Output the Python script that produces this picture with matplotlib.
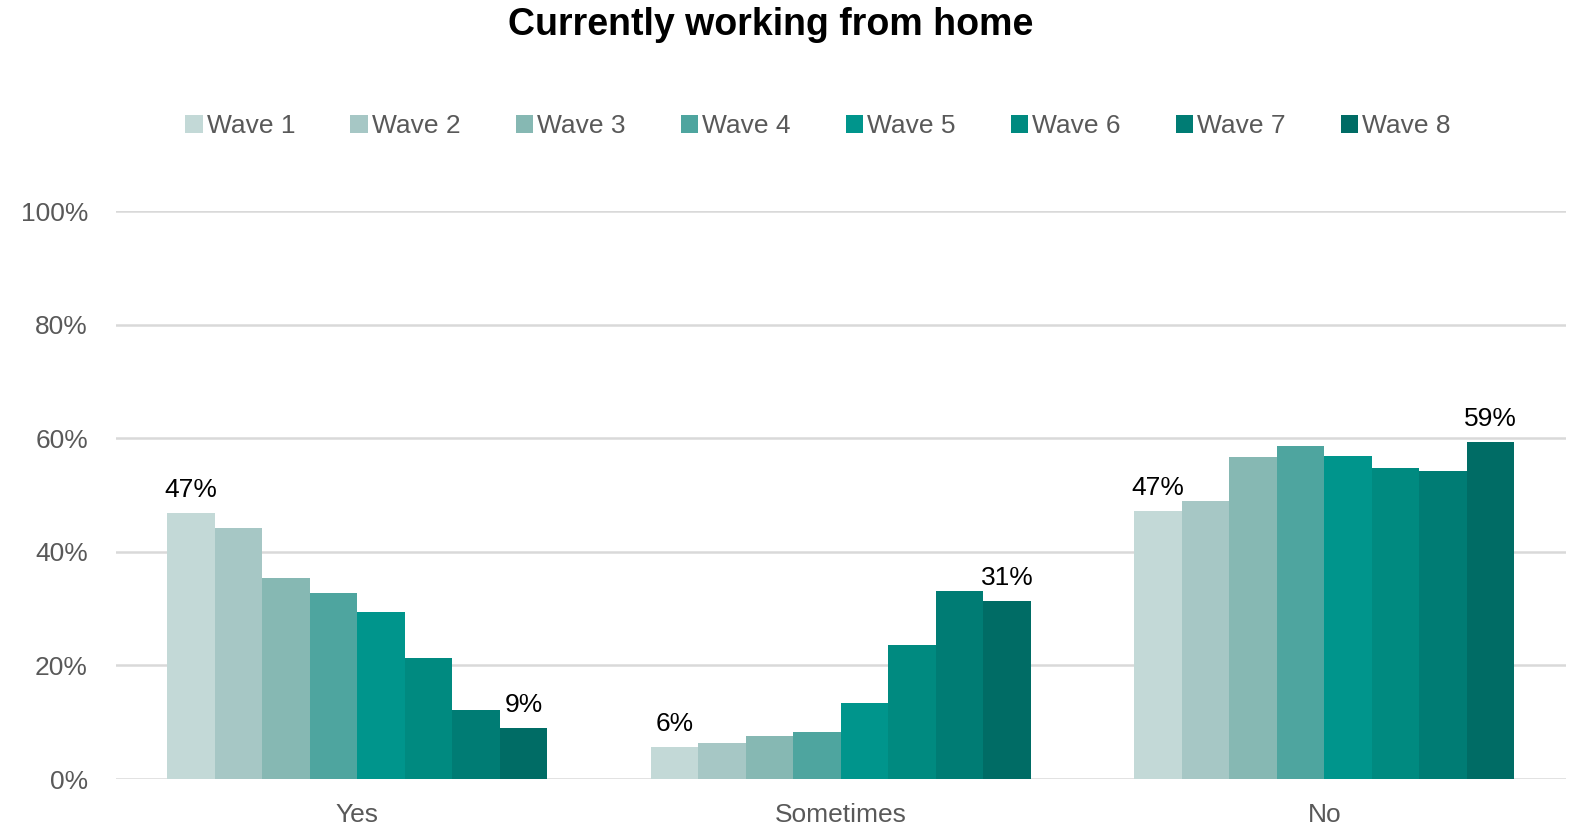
import numpy as np
import matplotlib
matplotlib.use('Agg')
import matplotlib.pyplot as plt

plt.rcParams['font.family'] = ['Liberation Sans', 'DejaVu Sans']

# data
categories = ['Yes', 'Sometimes', 'No']
waves = ['Wave 1', 'Wave 2', 'Wave 3', 'Wave 4', 'Wave 5', 'Wave 6', 'Wave 7', 'Wave 8']
yes_vals = [46.9, 44.3, 35.4, 32.8, 29.4, 21.3, 12.2, 9.0]
sometimes_vals = [5.6, 6.3, 7.5, 8.3, 13.4, 23.6, 33.2, 31.4]
no_vals = [47.2, 49.0, 56.8, 58.6, 56.9, 54.7, 54.2, 59.3]
colors = ['#C3D9D7', '#A6C7C5', '#86B8B3', '#4EA59F', '#00958C', '#008A80', '#007C74', '#006C65']

vals = np.array([yes_vals, sometimes_vals, no_vals])  # rows = categories

fig = plt.figure(figsize=(15.76, 8.24), dpi=100)
ax = fig.add_axes([0.0734, 0.0546, 0.9202, 0.689])

group_w = 0.786
bw = group_w / len(waves)
x = np.arange(len(categories))
for i, w in enumerate(waves):
    pos = x - group_w / 2 + bw * (i + 0.5)
    ax.bar(pos, vals[:, i], width=bw, color=colors[i], label=w,
           edgecolor='none', zorder=3)
    # labels on first and last wave only
    if i in (0, len(waves) - 1):
        for xp, v in zip(pos, vals[:, i]):
            ax.annotate('%d%%' % round(v), (xp, v), xytext=(0, 8),
                        textcoords='offset points', ha='center', va='bottom',
                        fontsize=19, color='black')

ax.set_xlim(-0.5, 2.5)
ax.set_ylim(0, 100)
ax.set_yticks(np.arange(0, 101, 20))
ax.set_yticklabels(['%d%%' % t for t in range(0, 101, 20)])
ax.set_xticks(x)
ax.set_xticklabels(categories)
ax.tick_params(axis='both', length=0, labelsize=19, labelcolor='#595959')
ax.tick_params(axis='y', pad=20)
ax.tick_params(axis='x', pad=17)
ax.grid(axis='y', color='#D9D9D9', linewidth=1.8, zorder=0)
for s in ax.spines.values():
    s.set_visible(False)

fig.text(0.489, 0.97, 'Currently working from home', ha='center', va='center',
         fontsize=27, fontweight='bold', color='black')

fig.legend(loc='center', bbox_to_anchor=(0.519, 0.847), ncol=8, frameon=False,
           fontsize=19, handlelength=0.65, handleheight=0.65,
           handletextpad=0.15, columnspacing=2.1, labelcolor='#595959')

fig.savefig('out.png', dpi=100, facecolor='white')
